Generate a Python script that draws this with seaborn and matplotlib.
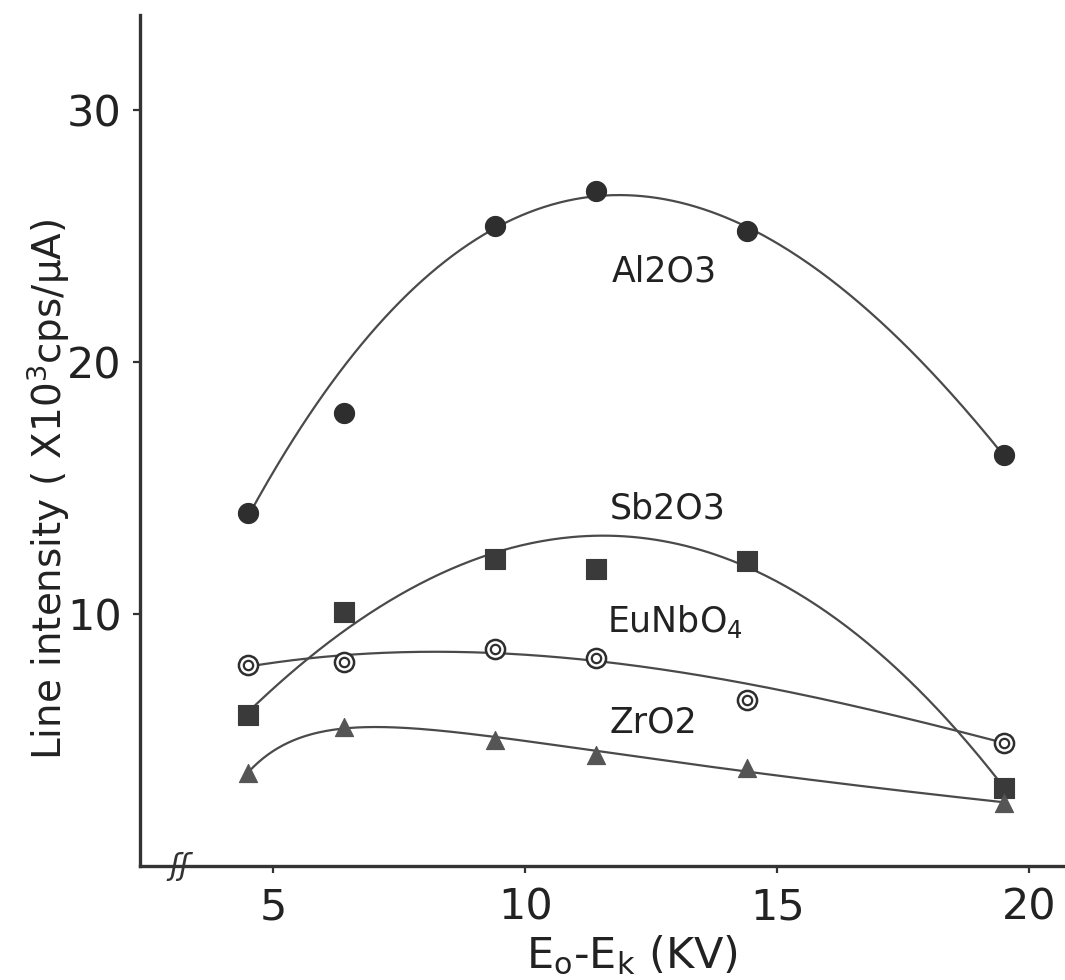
import numpy as np
import pandas as pd
import matplotlib
matplotlib.use("Agg")
import matplotlib.pyplot as plt
import seaborn as sns

# Accelerating voltage above the K edge (kV)
energy = [4.5, 6.4, 9.4, 11.4, 14.4, 19.5]

# Line intensity (x10^3 cps/uA) for each oxide
al2o3 = [14.0, 18.0, 25.4, 26.8, 25.2, 16.3]
sb2o3 = [6.0, 10.1, 12.2, 11.8, 12.1, 3.1]
eunbo4 = [8.0, 8.1, 8.6, 8.25, 6.6, 4.9]
zro2 = [3.7, 5.5, 5.0, 4.4, 3.9, 2.5]

series_names = ["Al2O3", "Sb2O3", "EuNbO4", "ZrO2"]
series_labels = ["Al2O3", "Sb2O3", r"EuNbO$_4$", "ZrO2"]
label_pos = [(11.72, 23.6), (11.68, 14.2), (11.62, 9.7), (11.68, 5.7)]

x_ticks = [5, 10, 15, 20]
y_ticks = [10, 20, 30]


def cubic_basis(x):
    return np.column_stack([np.ones_like(x), x, x ** 2, x ** 3])


def rise_decay_basis(x):
    # linear trend plus a sharp low-energy roll-off
    return np.column_stack([np.ones_like(x), x, 1 / x, 1 / x ** 2])


# weights and basis for the smooth trend fits (outlying points count less)
fit_setup = {
    "Al2O3": ([1, 0.15, 1, 1, 1, 1.5], cubic_basis),
    "Sb2O3": ([2, 0.6, 1, 0.15, 1, 2], cubic_basis),
    "EuNbO4": ([1.5, 1, 1, 1, 0.2, 1.5], cubic_basis),
    "ZrO2": ([3, 3, 1, 1, 2, 3], rise_decay_basis),
}

sns.set_theme(style="white")
plt.rcParams["font.family"] = ["DejaVu Sans"]
plt.rcParams["mathtext.default"] = "regular"

df = pd.DataFrame({
    "energy": energy * 4,
    "intensity": al2o3 + sb2o3 + eunbo4 + zro2,
    "sample": np.repeat(series_names, len(energy)),
})

ink = "#2e2e2e"
line_ink = "#4a4a4a"

fig = plt.figure(figsize=(10.65, 9.8), dpi=100)
ax = fig.add_axes([0.1315, 0.1163, 0.8685, 0.8687])

# smooth trend curves (weighted least-squares fits) through each series
curves = []
for name in series_names:
    sub = df[df["sample"] == name]
    w, basis = fit_setup[name]
    x = sub["energy"].to_numpy(float)
    y = sub["intensity"].to_numpy(float)
    sw = np.sqrt(np.asarray(w, float))
    coef, *_ = np.linalg.lstsq(basis(x) * sw[:, None], y * sw, rcond=None)
    xs = np.linspace(x.min(), x.max(), 300)
    curves.append(pd.DataFrame({"energy": xs, "intensity": basis(xs) @ coef,
                                "sample": name}))
curve_df = pd.concat(curves, ignore_index=True)
sns.lineplot(data=curve_df, x="energy", y="intensity", units="sample",
             estimator=None, color=line_ink, lw=1.6, ax=ax, legend=False)

# measured points
sns.scatterplot(data=df[df["sample"] == "Al2O3"], x="energy", y="intensity",
                marker="o", s=210, color=ink, edgecolor=ink, linewidth=0.8,
                ax=ax, zorder=5, legend=False)
sns.scatterplot(data=df[df["sample"] == "Sb2O3"], x="energy", y="intensity",
                marker="s", s=190, color="#3a3a3a", edgecolor="#3a3a3a",
                linewidth=0.8, ax=ax, zorder=5, legend=False)
sns.scatterplot(data=df[df["sample"] == "EuNbO4"], x="energy", y="intensity",
                marker="o", s=190, facecolor="white", edgecolor=ink,
                linewidth=1.8, ax=ax, zorder=5, legend=False)
sns.scatterplot(data=df[df["sample"] == "EuNbO4"], x="energy", y="intensity",
                marker="o", s=45, facecolor="white", edgecolor=ink,
                linewidth=1.6, ax=ax, zorder=6, legend=False)
sns.scatterplot(data=df[df["sample"] == "ZrO2"], x="energy", y="intensity",
                marker="^", s=170, color="#555555", edgecolor="#555555",
                linewidth=0.8, ax=ax, zorder=5, legend=False)

for text, (lx, ly) in zip(series_labels, label_pos):
    ax.text(lx, ly, text, fontsize=25, color="#222222", ha="left",
            va="center")

ax.set_xlim(2.36, 20.71)
ax.set_ylim(0, 33.8)
ax.set_xticks(x_ticks)
ax.set_yticks(y_ticks)
ax.set_xticklabels([str(t) for t in x_ticks])
ax.set_yticklabels([str(t) for t in y_ticks])

for side in ["top", "right"]:
    ax.spines[side].set_visible(False)
for side in ["left", "bottom"]:
    ax.spines[side].set_color("#333333")
    ax.spines[side].set_linewidth(2.4)

ax.tick_params(axis="x", direction="out", length=5, width=1.6,
               colors="#333333", labelsize=31, pad=10, labelcolor="#222222",
               bottom=True)
ax.tick_params(axis="y", direction="out", length=5, width=1.6,
               colors="#333333", labelsize=31, pad=8, labelcolor="#222222",
               left=True)

# axis break mark near the origin
ax.text(3.15, 0, "ʃʃ", fontsize=22, color="#333333", ha="center",
        va="center", style="italic", zorder=7, clip_on=False)

ax.set_xlabel(r"E$_{o}$-E$_{k}$ (KV)", fontsize=31, color="#222222")
ax.set_ylabel(r"Line intensity ( X10$^{3}$cps/$\mu$A)", fontsize=28,
              color="#222222")
ax.xaxis.set_label_coords(0.532, -0.08)
ax.yaxis.set_label_coords(-0.074, 0.442)

fig.savefig("out.png", dpi=100)
